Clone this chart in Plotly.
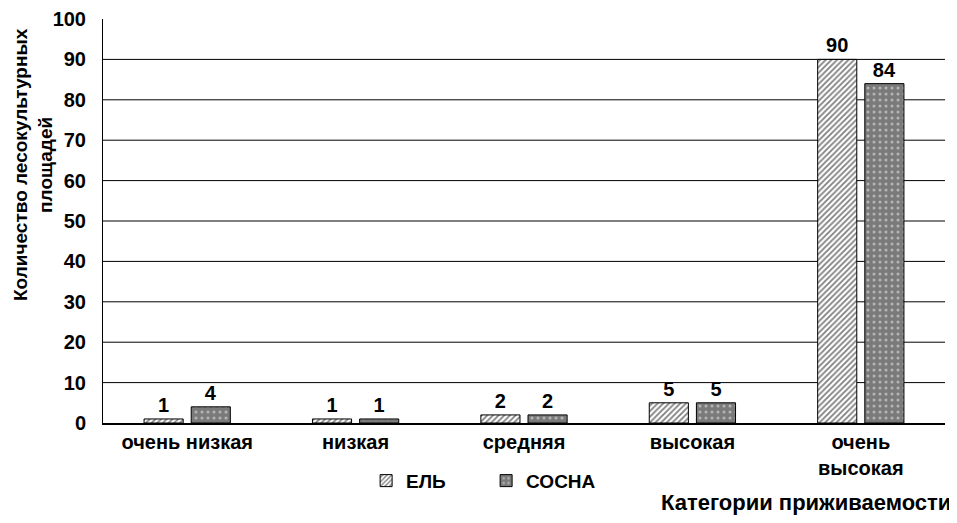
import plotly.graph_objects as go

categories = ["очень низкая", "низкая", "средняя", "высокая", "очень<br>высокая"]
el_values = [1, 1, 2, 5, 90]
sosna_values = [4, 1, 2, 5, 84]
y_ticks = [0, 10, 20, 30, 40, 50, 60, 70, 80, 90, 100]
grid_values = [10, 20, 30, 40, 50, 60, 70, 80, 90]

FONT = "Liberation Sans, Arial, sans-serif"

fig = go.Figure()
fig.add_trace(go.Bar(
    name="ЕЛЬ", x=categories, y=el_values,
    text=el_values, textposition="outside",
    textfont=dict(family=FONT, size=20, color="black", weight="bold"),
    marker=dict(color="white", line=dict(color="black", width=1),
                pattern=dict(shape="/", fgcolor="black", bgcolor="white", size=4, solidity=0.45)),
    cliponaxis=False,
))
fig.add_trace(go.Bar(
    name="СОСНА", x=categories, y=sosna_values,
    text=sosna_values, textposition="outside",
    textfont=dict(family=FONT, size=20, color="black", weight="bold"),
    marker=dict(color="#7a7a7a", line=dict(color="black", width=1),
                pattern=dict(shape=".", fgcolor="#f0f0f0", bgcolor="#7a7a7a", size=6, solidity=0.2)),
    cliponaxis=False,
))

shapes = [dict(type="line", xref="paper", x0=0, x1=1, yref="y", y0=g, y1=g,
               line=dict(color="black", width=1), layer="below") for g in grid_values]

fig.update_layout(
    width=949, height=515,
    margin=dict(l=95, r=12, t=11, b=100, autoexpand=False),
    paper_bgcolor="white", plot_bgcolor="white",
    barmode="group", bargap=0.44, bargroupgap=0.17,
    font=dict(family=FONT, color="black"),
    showlegend=True,
    legend=dict(orientation="h", x=0.455, xanchor="center", y=-0.143, yanchor="middle",
                font=dict(family=FONT, size=19, color="black", weight="bold"),
                itemwidth=30, entrywidth=75, entrywidthmode="pixels",
                bgcolor="rgba(0,0,0,0)"),
    shapes=shapes,
    xaxis=dict(showline=True, linecolor="black", linewidth=2, ticks="", automargin=False,
               tickfont=dict(family=FONT, size=20, color="black", weight="bold"),
               showgrid=False),
    yaxis=dict(range=[0, 100], tickvals=y_ticks, showgrid=False, zeroline=False,
               showline=True, linecolor="black", linewidth=1, ticks="", automargin=False,
               tickfont=dict(family=FONT, size=20, color="black", weight="bold"),
               ticklabelstandoff=12),
    annotations=[
        dict(text="Количество лесокультурных<br>площадей", xref="paper", yref="paper",
             x=-0.0825, y=0.64, xanchor="center", yanchor="middle", textangle=-90,
             showarrow=False,
             font=dict(family=FONT, size=19, color="black", weight="bold")),
        dict(text="Категории приживаемости", xref="paper", yref="paper",
             x=1.0095, y=-0.196, showarrow=False, xanchor="right", yanchor="middle",
             font=dict(family=FONT, size=22, color="black", weight="bold")),
    ],
)

fig.write_html("out.html")
